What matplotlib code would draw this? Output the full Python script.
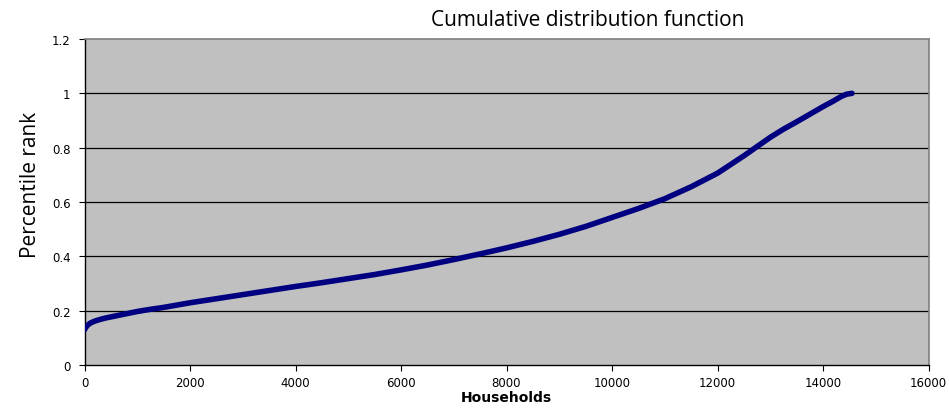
import matplotlib
matplotlib.use("Agg")
import matplotlib.pyplot as plt

# Households (cumulative count) and their percentile rank
households = [0, 25, 50, 100, 150, 200, 300, 400, 500, 750, 1000, 1250, 1500,
              2000, 2500, 3000, 3500, 4000, 4500, 5000, 5500, 6000, 6500, 7000,
              7500, 8000, 8500, 9000, 9500, 10000, 10500, 11000, 11500, 12000,
              12500, 13000, 13250, 13500, 13750, 14000, 14200, 14350, 14450,
              14550]
percentile = [0.13, 0.138, 0.145, 0.153, 0.158, 0.162, 0.168, 0.173, 0.177,
              0.187, 0.197, 0.205, 0.212, 0.229, 0.244, 0.259, 0.274, 0.289,
              0.303, 0.318, 0.333, 0.35, 0.368, 0.388, 0.409, 0.431, 0.455,
              0.481, 0.51, 0.543, 0.576, 0.612, 0.656, 0.706, 0.77, 0.838,
              0.868, 0.895, 0.923, 0.951, 0.972, 0.989, 0.997, 1.0]

x_ticks = [0, 2000, 4000, 6000, 8000, 10000, 12000, 14000, 16000]
y_ticks = [0, 0.2, 0.4, 0.6, 0.8, 1, 1.2]
y_tick_labels = ["0", "0.2", "0.4", "0.6", "0.8", "1", "1.2"]

fig = plt.figure(figsize=(9.49, 4.10), dpi=100)
ax = fig.add_axes([84.5 / 949, 44 / 410, 844 / 949, 326 / 410])
ax.set_facecolor("#C0C0C0")

ax.plot(households, percentile, color="#000080", linewidth=4.0,
        solid_capstyle="round", solid_joinstyle="round", zorder=3)

ax.set_xlim(0, 16000)
ax.set_ylim(0, 1.2)
ax.set_xticks(x_ticks)
ax.set_xticklabels([str(t) for t in x_ticks])
ax.set_yticks(y_ticks)
ax.set_yticklabels(y_tick_labels)

for y in y_ticks[1:-1]:
    ax.axhline(y, color="black", linewidth=0.9, zorder=1)

for side in ("top", "right"):
    ax.spines[side].set_color("#808080")
    ax.spines[side].set_linewidth(1.2)
for side in ("left", "bottom"):
    ax.spines[side].set_color("black")
    ax.spines[side].set_linewidth(1.0)

ax.tick_params(axis="both", direction="out", length=4, width=0.8,
               labelsize=8.5, colors="black")
ax.tick_params(axis="y", pad=6)
ax.tick_params(axis="x", pad=4)
for lbl in ax.get_xticklabels() + ax.get_yticklabels():
    lbl.set_family("DejaVu Sans")

fig.text(588 / 949, 1 - 20 / 410, "Cumulative distribution function",
         ha="center", va="center", fontsize=15, family="Open Sans")
fig.text(30 / 949, 1 - 185 / 410, "Percentile rank", rotation=90,
         ha="center", va="center", fontsize=15, family="Open Sans")
fig.text(506 / 949, 1 - 398 / 410, "Households", ha="center", va="center",
         fontsize=10, fontweight="bold", family="DejaVu Sans")

fig.savefig("out.png", dpi=100)
